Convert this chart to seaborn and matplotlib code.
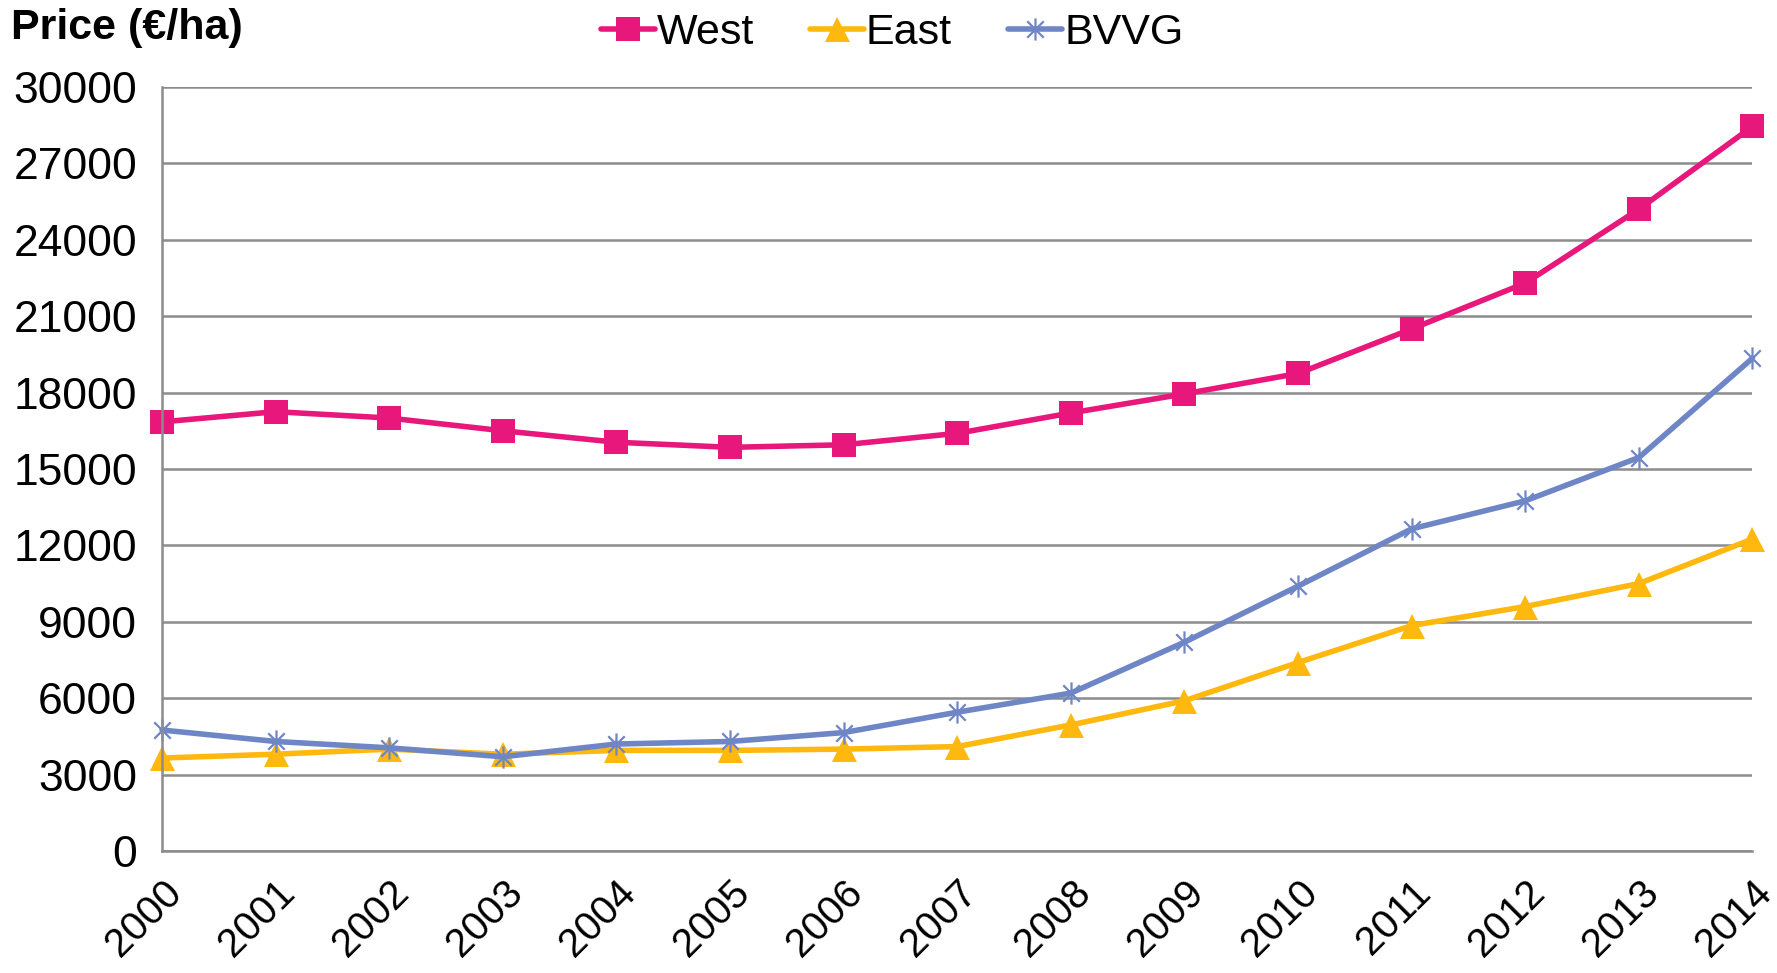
import numpy as np
import pandas as pd
import matplotlib
matplotlib.use("Agg")
import matplotlib.pyplot as plt
from matplotlib.path import Path
import seaborn as sns

years = list(range(2000, 2015))
west = [16850, 17250, 17000, 16500, 16050, 15850, 15950, 16400, 17200, 17950,
        18750, 20500, 22300, 25200, 28450]
east = [3650, 3800, 4000, 3800, 3950, 3950, 4000, 4100, 4950, 5900,
        7400, 8850, 9600, 10500, 12250]
bvvg = [4750, 4300, 4050, 3700, 4200, 4300, 4650, 5450, 6200, 8200,
        10400, 12650, 13750, 15450, 19350]

series_names = ["West", "East", "BVVG"]
colors = {"West": "#E8177B", "East": "#FFB80D", "BVVG": "#6F86C6"}

sns.set_style("white")
plt.rcParams["font.family"] = ["Liberation Sans", "DejaVu Sans"]
plt.rcParams["text.color"] = "black"

# Asterisk marker: an X crossed by a vertical stroke
asterisk = Path(
    [(-1, -1), (1, 1), (-1, 1), (1, -1), (0, -1.35), (0, 1.35)],
    [Path.MOVETO, Path.LINETO, Path.MOVETO, Path.LINETO, Path.MOVETO, Path.LINETO],
)

df = pd.DataFrame({"Year": years, "West": west, "East": east, "BVVG": bvvg})
long = df.melt(id_vars="Year", var_name="Series", value_name="Price")

fig = plt.figure(figsize=(17.77, 9.73), dpi=100)
ax = fig.add_axes([0.0912, 0.1254, 0.8950, 0.7852])

styles = {
    "West": dict(marker="s", markersize=17, markeredgewidth=0),
    "East": dict(marker="^", markersize=18, markeredgewidth=0),
    "BVVG": dict(marker=asterisk, markersize=16, markeredgewidth=1.6,
                 markerfacecolor="none"),
}

for name in series_names:
    sub = long[long["Series"] == name]
    sns.lineplot(data=sub, x="Year", y="Price", ax=ax, color=colors[name],
                 linewidth=4.0, label=name, markeredgecolor=colors[name],
                 clip_on=False, **styles[name])

ax.set_xlim(2000, 2014)
ax.set_ylim(0, 30000)
ax.set_xticks(years)
ax.set_xticklabels([str(y) for y in years], rotation=45, ha="right",
                   rotation_mode="anchor", fontsize=29)
ax.set_yticks(np.arange(0, 30001, 3000))
ax.set_yticklabels([str(v) for v in range(0, 30001, 3000)], fontsize=32)
ax.set_xlabel("")
ax.set_ylabel("")

grid_c = "#8C8C8C"
ax.yaxis.grid(True, color=grid_c, linewidth=1.8)
ax.xaxis.grid(False)
ax.set_axisbelow(True)
for side in ["top", "right"]:
    ax.spines[side].set_visible(False)
for side in ["left", "bottom"]:
    ax.spines[side].set_color(grid_c)
    ax.spines[side].set_linewidth(1.8)
ax.tick_params(axis="both", direction="out", length=12, width=1.5, color=grid_c,
               pad=6, labelcolor="black")
ax.tick_params(axis="x", pad=4)

leg = ax.legend(loc="upper center", bbox_to_anchor=(0.502, 1.026),
                bbox_transform=fig.transFigure, ncol=3, frameon=False,
                fontsize=31, handlelength=1.25, handletextpad=0.05,
                columnspacing=1.3)
for t in leg.get_texts():
    t.set_color("black")

fig.text(0.006, 0.992, "Price (€/ha)", fontsize=31, fontweight="bold",
         ha="left", va="top", color="black")

fig.savefig("out.png", dpi=100, facecolor="white")
